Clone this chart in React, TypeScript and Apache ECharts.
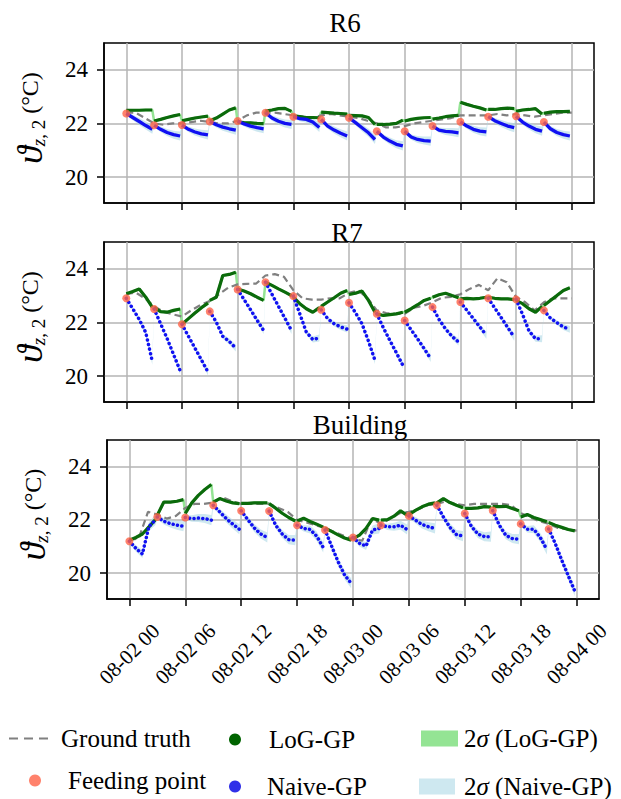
import React, { useEffect, useRef } from 'react';
import * as echarts from 'echarts';

const FONT = 'Liberation Serif';

const PANEL_TITLES = ['R6', 'R7', 'Building'];
const X_TICKS = [0, 6, 12, 18, 24, 30, 36, 42, 48];
const X_TICK_LABELS = ['08-02 00', '08-02 06', '08-02 12', '08-02 18', '08-03 00', '08-03 06', '08-03 12', '08-03 18', '08-04 00'];
const Y_TICKS = [20, 22, 24];
// hours at which a measurement is fed to the models
const FEED_TIMES = [0, 3, 6, 9, 12, 15, 18, 21, 24, 27, 30, 33, 36, 39, 42, 45];
// hours after each feeding point at which the predictions are read
const SEG_OFFSETS = [0, 0.7, 1.4, 2.1, 2.8];

// ---------- R6 ----------
const GT_R6 = [22.40, 22.40, 22.20, 22.00, 21.95, 22.00, 22.00, 22.05, 22.10, 22.05, 22.00, 22.00, 22.10, 22.30, 22.40, 22.40, 22.40, 22.35, 22.30, 22.25, 22.20, 22.30, 22.35, 22.30, 22.25, 22.20, 22.10, 22.00, 21.85, 21.85, 21.90, 22.00, 22.05, 22.10, 22.15, 22.20, 22.30, 22.30, 22.30, 22.30, 22.35, 22.30, 22.35, 22.30, 22.25, 22.30, 22.35, 22.40, 22.40];
const FEED_R6 = [22.37, 21.93, 21.94, 22.07, 22.09, 22.40, 22.25, 22.15, 22.21, 21.71, 21.71, 21.90, 22.06, 22.25, 22.27, 22.05];
const NAIVE_R6 = [
  [22.37, 22.22, 22.07, 21.92, 21.78],
  [21.93, 21.78, 21.66, 21.58, 21.53],
  [21.94, 21.78, 21.68, 21.61, 21.57],
  [22.07, 21.95, 21.86, 21.80, 21.75],
  [22.09, 21.98, 21.90, 21.84, 21.80],
  [22.40, 22.20, 22.08, 22.00, 21.96],
  [22.25, 22.18, 22.15, 22.05, 21.85],
  [22.15, 21.90, 21.75, 21.63, 21.53],
  [22.21, 22.03, 21.84, 21.65, 21.40],
  [21.71, 21.49, 21.34, 21.22, 21.16],
  [21.71, 21.49, 21.40, 21.36, 21.34],
  [21.90, 21.75, 21.70, 21.68, 21.65],
  [22.06, 21.90, 21.78, 21.71, 21.68],
  [22.25, 22.10, 22.00, 21.90, 21.84],
  [22.27, 22.05, 21.90, 21.78, 21.71],
  [22.05, 21.80, 21.66, 21.58, 21.53],
];
const LOG_R6 = [
  [22.49, 22.49, 22.49, 22.50, 22.50],
  [22.09, 22.15, 22.22, 22.28, 22.33],
  [22.10, 22.15, 22.20, 22.24, 22.27],
  [22.10, 22.20, 22.35, 22.50, 22.58],
  [22.05, 22.03, 22.02, 22.00, 21.99],
  [22.46, 22.50, 22.55, 22.56, 22.45],
  [22.28, 22.25, 22.22, 22.22, 22.21],
  [22.42, 22.40, 22.38, 22.37, 22.35],
  [22.30, 22.29, 22.28, 22.22, 21.96],
  [21.96, 21.96, 21.97, 22.00, 22.12],
  [22.09, 22.15, 22.19, 22.21, 22.22],
  [22.16, 22.20, 22.25, 22.28, 22.30],
  [22.79, 22.71, 22.64, 22.58, 22.50],
  [22.52, 22.52, 22.55, 22.57, 22.55],
  [22.45, 22.50, 22.52, 22.55, 22.35],
  [22.38, 22.42, 22.44, 22.44, 22.45],
];
const SIG_R6 = [0.06, 0.10, 0.13, 0.15, 0.17];

// ---------- R7 ----------
const GT_R7 = [23.05, 23.12, 22.90, 22.60, 22.40, 22.30, 22.22, 22.45, 22.65, 22.80, 23.05, 23.30, 23.42, 23.44, 23.45, 23.75, 23.80, 23.70, 23.20, 22.90, 22.85, 22.85, 22.90, 22.90, 23.10, 23.20, 22.90, 22.45, 22.35, 22.32, 22.32, 22.55, 22.62, 22.75, 22.92, 22.95, 23.05, 23.25, 23.40, 23.20, 23.65, 23.50, 22.95, 22.75, 22.45, 22.75, 22.90, 22.90, 22.90];
const FEED_R7 = [22.90, 22.50, 21.93, 22.41, 23.23, 23.50, 22.98, 22.47, 22.73, 22.32, 22.07, 22.57, 22.76, 22.90, 22.86, 22.45];
const NAIVE_R7 = [
  [22.90, 22.51, 22.11, 21.62, 20.55],
  [22.50, 21.95, 21.40, 20.80, 20.20],
  [21.93, 21.48, 21.04, 20.60, 20.15],
  [22.41, 22.01, 21.48, 21.29, 21.04],
  [23.23, 22.85, 22.47, 22.08, 21.70],
  [23.50, 23.05, 22.60, 22.15, 21.70],
  [22.98, 22.32, 21.64, 21.36, 21.42],
  [22.47, 22.14, 21.95, 21.83, 21.75],
  [22.73, 22.36, 21.95, 21.30, 20.58],
  [22.32, 21.80, 21.33, 20.87, 20.40],
  [22.07, 21.72, 21.38, 21.02, 20.65],
  [22.57, 22.11, 21.76, 21.48, 21.27],
  [22.76, 22.45, 22.14, 21.83, 21.52],
  [22.90, 22.54, 22.18, 21.81, 21.45],
  [22.86, 22.30, 21.68, 21.39, 21.39],
  [22.45, 22.16, 21.99, 21.83, 21.74],
];
const LOG_R7 = [
  [23.07, 23.15, 23.25, 22.94, 22.57],
  [22.55, 22.40, 22.38, 22.45, 22.50],
  [21.93, 22.14, 22.35, 22.55, 22.72],
  [22.82, 22.94, 23.75, 23.79, 23.87],
  [23.25, 23.17, 23.07, 22.94, 22.82],
  [23.50, 23.38, 23.25, 23.13, 23.00],
  [22.94, 22.70, 22.51, 22.38, 22.55],
  [22.60, 22.76, 22.92, 23.09, 23.19],
  [23.04, 23.09, 23.17, 22.82, 22.38],
  [22.32, 22.26, 22.29, 22.32, 22.38],
  [22.38, 22.51, 22.66, 22.82, 22.90],
  [22.94, 23.03, 23.09, 23.00, 22.92],
  [22.88, 22.90, 22.88, 22.90, 22.94],
  [22.94, 22.90, 22.88, 22.88, 22.85],
  [22.82, 22.70, 22.51, 22.38, 22.60],
  [22.63, 22.82, 23.00, 23.19, 23.29],
];
const SIG_R7 = [0.04, 0.07, 0.09, 0.11, 0.13];

// ---------- Building ----------
const GT_BLD = [21.25, 21.30, 22.30, 22.20, 22.05, 22.15, 22.45, 22.60, 22.60, 22.65, 22.85, 22.70, 22.60, 22.60, 22.60, 22.60, 22.45, 22.30, 22.00, 21.90, 21.80, 21.70, 21.55, 21.40, 21.28, 21.22, 22.05, 21.85, 22.05, 22.25, 22.30, 22.40, 22.55, 22.60, 22.70, 22.60, 22.55, 22.60, 22.60, 22.60, 22.60, 22.55, 22.25, 22.10, 21.95, 21.85, 21.70, 21.65, 21.60];
const FEED_BLD = [21.20, 22.11, 22.09, 22.55, 22.34, 22.33, 21.80, 21.62, 21.34, 21.80, 22.15, 22.55, 22.24, 22.35, 21.85, 21.66];
const NAIVE_BLD = [
  [21.20, 20.93, 20.72, 21.75, 22.00],
  [22.11, 21.95, 21.86, 21.80, 21.76],
  [22.09, 22.05, 22.07, 22.05, 21.99],
  [22.55, 22.30, 22.05, 21.84, 21.65],
  [22.34, 22.01, 21.70, 21.47, 21.34],
  [22.33, 21.80, 21.47, 21.26, 21.24],
  [21.80, 21.68, 21.64, 21.39, 20.97],
  [21.62, 21.02, 20.43, 19.93, 19.62],
  [21.34, 21.12, 21.02, 21.62, 21.68],
  [21.80, 21.74, 21.74, 21.80, 21.64],
  [22.15, 21.99, 21.83, 21.74, 21.68],
  [22.55, 22.11, 21.72, 21.45, 21.39],
  [22.24, 21.76, 21.47, 21.37, 21.37],
  [22.35, 21.80, 21.42, 21.30, 21.28],
  [21.85, 21.65, 21.65, 21.34, 20.89],
  [21.66, 21.12, 20.49, 19.90, 19.33],
];
const LOG_BLD = [
  [21.24, 21.34, 21.47, 21.74, 22.01],
  [22.18, 22.67, 22.67, 22.70, 22.76],
  [22.24, 22.64, 22.92, 23.14, 23.33],
  [22.67, 22.80, 22.71, 22.64, 22.61],
  [22.62, 22.62, 22.64, 22.64, 22.64],
  [22.61, 22.44, 22.25, 22.09, 21.96],
  [21.96, 22.06, 21.94, 21.84, 21.73],
  [21.69, 21.57, 21.44, 21.32, 21.24],
  [21.30, 21.43, 21.68, 22.05, 21.99],
  [21.99, 22.01, 22.14, 22.34, 22.18],
  [22.20, 22.36, 22.49, 22.59, 22.64],
  [22.64, 22.80, 22.65, 22.55, 22.46],
  [22.43, 22.43, 22.45, 22.50, 22.48],
  [22.50, 22.50, 22.51, 22.43, 22.34],
  [22.11, 22.20, 22.09, 22.01, 21.93],
  [21.90, 21.80, 21.72, 21.64, 21.59],
];
const SIG_BLD = [0.08, 0.12, 0.15, 0.17, 0.19];

// ---------- styling ----------
const C_GT = '#808080';
const C_FEED = '#ff6347';
const C_LOG = '#0b6a0b';
const C_NAIVE = '#1010f2';
const C_LOG_BAND = '#94e494';
const C_NAIVE_BAND = 'rgba(173,216,230,0.6)';
const C_NAIVE_BAND_LEGEND = '#cee8f0';

const GRIDS = [
  { left: 104, top: 43, width: 490, height: 160 },
  { left: 104, top: 242, width: 490, height: 160 },
  { left: 107, top: 440, width: 492, height: 159 },
];
const TITLE_POS = [
  { left: 345, top: 9 },
  { left: 347, top: 219 },
  { left: 360, top: 411 },
];

const PANELS = [
  { gt: GT_R6, feed: FEED_R6, naive: NAIVE_R6, log: LOG_R6, sig: SIG_R6, dash: null as number[] | null },
  { gt: GT_R7, feed: FEED_R7, naive: NAIVE_R7, log: LOG_R7, sig: SIG_R7, dash: [0.1, 4.6] },
  { gt: GT_BLD, feed: FEED_BLD, naive: NAIVE_BLD, log: LOG_BLD, sig: SIG_BLD, dash: [0.1, 4.3] },
];

function txt(size: number, extra: any = {}) {
  return { fontFamily: FONT, fontSize: size, fontWeight: 'normal', color: '#000', ...extra };
}

function segmented(segs: number[][]) {
  const out: (number | null)[][] = [];
  segs.forEach((seg, k) => {
    seg.forEach((v, j) => out.push([FEED_TIMES[k] + SEG_OFFSETS[j], v]));
    out.push([FEED_TIMES[k] + 2.9, null]);
  });
  return out;
}
function continuous(segs: number[][]) {
  const out: number[][] = [];
  segs.forEach((seg, k) => seg.forEach((v, j) => out.push([FEED_TIMES[k] + SEG_OFFSETS[j], v])));
  return out;
}

function panelSeries(p: number) {
  const P = PANELS[p];
  const upper: number[][] = [];
  const lower: number[][] = [];
  P.naive.forEach((seg, k) =>
    seg.forEach((v, j) => {
      const t = FEED_TIMES[k] + SEG_OFFSETS[j];
      upper.push([t, v + P.sig[j]]);
      lower.push([t, v - P.sig[j]]);
    })
  );
  const naiveStyle: any = P.dash
    ? { color: C_NAIVE, width: 3.5, type: P.dash, cap: 'round' }
    : { color: C_NAIVE, width: 3.3 };
  return [
    {
      type: 'custom',
      name: '2σ (Naive-GP)',
      xAxisIndex: p,
      yAxisIndex: p,
      z: 1,
      silent: true,
      itemStyle: { color: C_NAIVE_BAND_LEGEND },
      data: upper,
      renderItem: (params: any, api: any) => {
        if (params.dataIndex !== 0) return;
        const pts = upper.map((q) => api.coord(q)).concat(lower.slice().reverse().map((q) => api.coord(q)));
        return { type: 'polygon', shape: { points: pts }, style: { fill: C_NAIVE_BAND } };
      },
    },
    {
      type: 'line',
      name: '2σ (LoG-GP)',
      xAxisIndex: p,
      yAxisIndex: p,
      z: 2,
      silent: true,
      symbol: 'none',
      data: continuous(P.log),
      itemStyle: { color: C_LOG_BAND },
      lineStyle: { color: C_LOG_BAND, width: 2.5 },
    },
    {
      type: 'line',
      name: 'Ground truth',
      xAxisIndex: p,
      yAxisIndex: p,
      z: 3,
      silent: true,
      symbol: 'none',
      data: P.gt.map((v, i) => [i, v]),
      itemStyle: { color: C_GT },
      lineStyle: { color: C_GT, width: 2.2, type: [7, 4] },
    },
    {
      type: 'line',
      name: 'LoG-GP',
      xAxisIndex: p,
      yAxisIndex: p,
      z: 4,
      silent: true,
      symbol: 'none',
      connectNulls: false,
      data: segmented(P.log),
      itemStyle: { color: C_LOG },
      lineStyle: { color: C_LOG, width: 3.2 },
    },
    {
      type: 'line',
      name: 'Naive-GP',
      xAxisIndex: p,
      yAxisIndex: p,
      z: 5,
      silent: true,
      symbol: 'none',
      connectNulls: false,
      data: segmented(P.naive),
      itemStyle: { color: C_NAIVE },
      lineStyle: naiveStyle,
    },
    {
      type: 'scatter',
      name: 'Feeding point',
      xAxisIndex: p,
      yAxisIndex: p,
      z: 6,
      silent: true,
      symbolSize: 8,
      data: P.feed.map((v, k) => [FEED_TIMES[k], v]),
      itemStyle: { color: C_FEED },
    },
  ];
}

function buildOption() {
  const lineBlack = { color: '#000', width: 1.5 };
  const gridLine = { color: '#b4b4b4', width: 1.5 };
  const richSigma = {
    n: txt(25),
    s: txt(25, { fontStyle: 'italic' }),
  };
  const legendBase = { orient: 'horizontal', padding: 0, itemGap: 0, selectedMode: false };
  return {
    animation: false,
    backgroundColor: '#fff',
    textStyle: { fontFamily: FONT },
    title: PANEL_TITLES.map((t, i) => ({
      text: t,
      left: TITLE_POS[i].left,
      top: TITLE_POS[i].top,
      textAlign: 'center',
      padding: 0,
      textStyle: txt(27),
    })),
    grid: GRIDS.map((g) => ({ ...g, show: true, borderColor: '#000', borderWidth: 1.5, backgroundColor: 'transparent' })),
    xAxis: GRIDS.map((g, i) => ({
      type: 'value',
      gridIndex: i,
      min: -2.4,
      max: 50.4,
      axisLine: { show: true, onZero: false, lineStyle: lineBlack },
      axisTick: { show: true, length: 7, lineStyle: lineBlack, customValues: X_TICKS },
      axisLabel: {
        show: i === 2,
        customValues: X_TICKS,
        formatter: (v: number) => X_TICK_LABELS[X_TICKS.indexOf(v)] ?? '',
        rotate: 45,
        align: 'center',
        verticalAlign: 'middle',
        margin: 55,
        ...txt(21),
      },
      splitLine: { show: true, lineStyle: gridLine },
    })),
    yAxis: GRIDS.map((g, i) => ({
      type: 'value',
      gridIndex: i,
      min: 19.03,
      max: 25,
      axisLine: { show: true, onZero: false, lineStyle: lineBlack },
      axisTick: { show: true, length: 7, lineStyle: lineBlack, customValues: Y_TICKS },
      axisLabel: { customValues: Y_TICKS, margin: 16, ...txt(23) },
      splitLine: { show: true, lineStyle: gridLine },
      name: '{th|ϑ}{sz|z}{s2|, 2}{u| (°C)}',
      nameLocation: 'middle',
      nameRotate: 90,
      nameGap: 56,
      nameTextStyle: {
        ...txt(24),
        padding: [0, 0, 0, 10],
        rich: {
          th: txt(36, { fontStyle: 'italic' }),
          sz: txt(19, { fontStyle: 'italic', lineHeight: 13, verticalAlign: 'bottom' }),
          s2: txt(19, { lineHeight: 13, verticalAlign: 'bottom' }),
          u: txt(24),
        },
      },
    })),
    legend: [
      {
        ...legendBase,
        left: 9,
        top: 726,
        itemWidth: 39,
        itemHeight: 2,
        data: [{ name: 'Ground truth', icon: 'path://M0 0h9v2H0zM15 0h9v2h-9zM30 0h9v2h-9z', itemStyle: { color: C_GT } }],
        textStyle: txt(25, { padding: [0, 0, 0, 8] }),
      },
      {
        ...legendBase,
        left: 29,
        top: 768,
        itemWidth: 12,
        itemHeight: 12,
        data: [{ name: 'Feeding point', icon: 'circle', itemStyle: { color: C_FEED } }],
        textStyle: txt(25, { padding: [0, 0, 0, 22] }),
      },
      {
        ...legendBase,
        left: 229,
        top: 727,
        itemWidth: 12,
        itemHeight: 12,
        data: [{ name: 'LoG-GP', icon: 'circle', itemStyle: { color: '#006400' } }],
        textStyle: txt(25, { padding: [0, 0, 0, 23] }),
      },
      {
        ...legendBase,
        left: 229,
        top: 774,
        itemWidth: 12,
        itemHeight: 12,
        data: [{ name: 'Naive-GP', icon: 'circle', itemStyle: { color: '#3030e8' } }],
        textStyle: txt(25, { padding: [0, 0, 0, 21] }),
      },
      {
        ...legendBase,
        left: 421,
        top: 726,
        itemWidth: 37,
        itemHeight: 16,
        data: [{ name: '2σ (LoG-GP)', icon: 'rect', itemStyle: { color: C_LOG_BAND } }],
        formatter: () => '{n|2}{s|σ}{n| (LoG-GP)}',
        textStyle: txt(25, { padding: [0, 0, 0, 1], rich: richSigma }),
      },
      {
        ...legendBase,
        left: 419,
        top: 774,
        itemWidth: 36,
        itemHeight: 16,
        data: [{ name: '2σ (Naive-GP)', icon: 'rect', itemStyle: { color: C_NAIVE_BAND_LEGEND } }],
        formatter: () => '{n|2}{s|σ}{n| (Naive-GP)}',
        textStyle: txt(25, { padding: [0, 0, 0, 4], rich: richSigma }),
      },
    ],
    series: [0, 1, 2].flatMap((p) => panelSeries(p)),
  };
}

export default function App() {
  const ref = useRef<HTMLDivElement>(null);
  useEffect(() => {
    const chart = echarts.init(ref.current!, null, { renderer: 'svg' });
    chart.setOption(buildOption() as any);
    return () => chart.dispose();
  }, []);
  return (
    <div
      ref={ref}
      style={{ position: 'fixed', left: 0, top: 0, width: 621, height: 799, background: '#fff' }}
    />
  );
}
